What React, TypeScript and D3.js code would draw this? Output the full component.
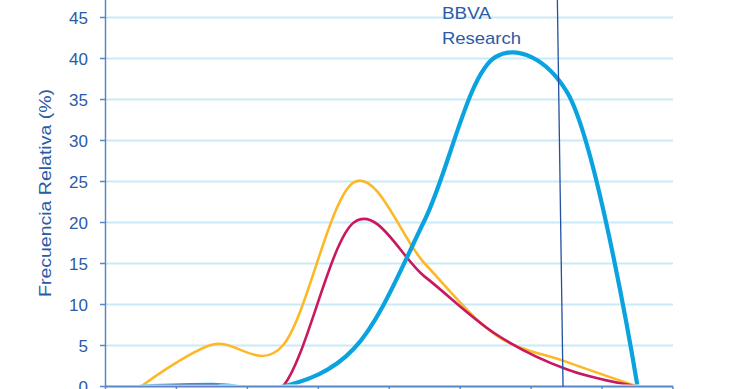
import React from 'react';
import * as d3 from 'd3';

// bins are drawn at their centres (index + 0.5) on a 0..8 axis
const binCenters = [0.5, 1.5, 2.5, 3.5, 4.5, 5.5, 6.5, 7.5];
const yellowSeries = [0, 5.1, 5.0, 24.9, 15.0, 6.3, 3.0, 0];
const redSeries = [0, 0.2, 0, 20.0, 13.4, 6.4, 2.1, 0];
const blueSeries = [0, 0.2, 0, 4.6, 20.3, 40.2, 36.0, 0];

const yTicks = [0, 5, 10, 15, 20, 25, 30, 35, 40, 45];
const xTicks = [0, 1, 2, 3, 4, 5, 6, 7, 8];

// slanted reference line (x at top, x at bottom, in axis units)
const markerTop = 6.37;
const markerBottom = 6.45;

const WIDTH = 740;
const HEIGHT = 389;

const AXIS_COLOR = '#5b86c5';
const TEXT_COLOR = '#2a5ba8';
const GRID_COLOR = '#c9eaf8';

export default function App() {
    const x = d3.scaleLinear().domain([0, 8]).range([105.5, 673]);
    // top of the plot (50) sits above the visible picture
    const y = d3.scaleLinear().domain([0, 50]).range([386.5, -23.5]);

    const makeLine = (alpha: number) => d3.line<number>()
        .x((_, i) => x(binCenters[i]))
        .y(d => y(d))
        .curve(d3.curveCatmullRom.alpha(alpha));

    const series = [
        { name: 'yellow', values: yellowSeries, color: '#fdb828', width: 2.6, alpha: 0 },
        { name: 'red', values: redSeries, color: '#c8195f', width: 2.6, alpha: 0 },
        { name: 'blue', values: blueSeries, color: '#0aa3e0', width: 4.2, alpha: 0.3 },
    ];

    const [x0, x1] = x.range();
    const [yBottom, yTop] = y.range();

    return (
        <div style={{ position: 'absolute', left: 0, top: 0 }}>
            <svg width={WIDTH} height={HEIGHT} style={{ display: 'block', background: '#fff' }}>
                <defs>
                    {/* lines sitting on zero hide behind the axis, as in the source */}
                    <clipPath id="plot">
                        <rect x={x0} y={yTop} width={x1 - x0} height={yBottom - yTop - 2} />
                    </clipPath>
                </defs>

                {/* gridlines */}
                {yTicks.filter(t => t > 0).map(t => (
                    <line key={t} x1={x0} x2={x1} y1={y(t)} y2={y(t)}
                        stroke={GRID_COLOR} strokeWidth={2} />
                ))}

                {/* series */}
                <g clipPath="url(#plot)">
                    {series.map(s => (
                        <path key={s.name} d={makeLine(s.alpha)(s.values) || ''} fill="none"
                            stroke={s.color} strokeWidth={s.width}
                            strokeLinejoin="round" strokeLinecap="round" />
                    ))}
                </g>

                {/* y axis */}
                <line x1={x0} x2={x0} y1={yTop} y2={yBottom} stroke={AXIS_COLOR} strokeWidth={1.5} />
                {yTicks.map(t => (
                    <g key={t}>
                        <line x1={x0 - 5.5} x2={x0} y1={y(t)} y2={y(t)} stroke={AXIS_COLOR} strokeWidth={1.5} />
                        <text x={88} y={y(t)} dy="0.36em" textAnchor="end"
                            fill={TEXT_COLOR} fontFamily="Liberation Sans, Arial, sans-serif" fontSize={17}>
                            {t}
                        </text>
                    </g>
                ))}

                {/* x axis */}
                <line x1={x0} x2={x1} y1={yBottom} y2={yBottom} stroke={AXIS_COLOR} strokeWidth={1.8} />
                {xTicks.map(t => (
                    <line key={t} x1={x(t)} x2={x(t)} y1={yBottom} y2={yBottom + 6}
                        stroke={AXIS_COLOR} strokeWidth={1.5} />
                ))}

                {/* reference line */}
                <line x1={x(markerTop)} x2={x(markerBottom)} y1={0} y2={yBottom}
                    stroke="#2251a0" strokeWidth={1.3} />

                <text transform="translate(51,193) rotate(-90)" textAnchor="middle"
                    fill={TEXT_COLOR} fontFamily="Liberation Sans, Arial, sans-serif" fontSize={16}
                    textLength={208} lengthAdjust="spacingAndGlyphs">
                    Frecuencia Relativa (%)
                </text>

                <g fill={TEXT_COLOR} fontFamily="Liberation Sans, Arial, sans-serif" fontSize={17}>
                    <text x={442} y={19} textLength={49} lengthAdjust="spacingAndGlyphs">BBVA</text>
                    <text x={442} y={44} textLength={79} lengthAdjust="spacingAndGlyphs">Research</text>
                </g>
            </svg>
        </div>
    );
}
